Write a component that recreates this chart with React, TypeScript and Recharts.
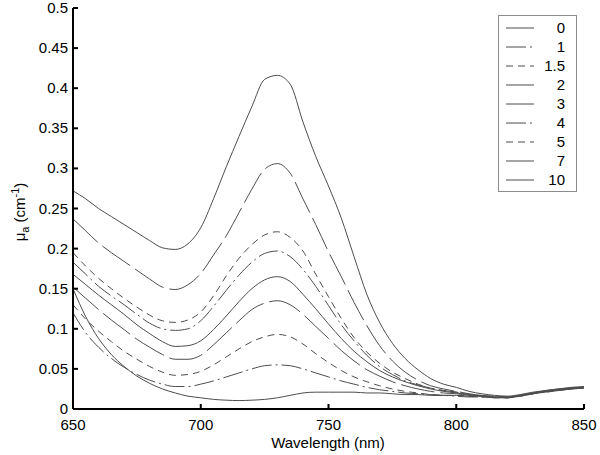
import React from 'react';
import { LineChart, Line, XAxis, YAxis, Legend } from 'recharts';

// wavelength grid (nm)
const wavelengths = [
  650, 655, 660, 665, 670, 675, 680, 685, 690, 695, 700, 705, 710, 715, 720, 725, 730, 735, 740, 745,
  750, 755, 760, 765, 770, 775, 780, 785, 790, 795, 800, 805, 810, 815, 820, 825, 830, 835, 840, 845, 850,
];

// absorption coefficient (cm^-1), one array per concentration
const mu0 = [
  0.150, 0.115, 0.088, 0.068, 0.053, 0.041, 0.032, 0.025, 0.020, 0.016, 0.014, 0.012, 0.011, 0.0105, 0.011, 0.012, 0.014, 0.017, 0.020, 0.021,
  0.021, 0.021, 0.021, 0.020, 0.020, 0.019, 0.018, 0.018, 0.017, 0.017, 0.017, 0.016, 0.016, 0.015, 0.015, 0.017, 0.020, 0.022, 0.024, 0.026, 0.027,
];
const mu1 = [
  0.120, 0.095, 0.077, 0.063, 0.052, 0.043, 0.036, 0.031, 0.028, 0.028, 0.031, 0.035, 0.040, 0.045, 0.050, 0.054, 0.055, 0.054, 0.050, 0.045,
  0.040, 0.035, 0.031, 0.027, 0.024, 0.022, 0.020, 0.019, 0.018, 0.017, 0.016, 0.015, 0.015, 0.014, 0.014, 0.016, 0.019, 0.021, 0.023, 0.025, 0.027,
];
const mu15 = [
  0.130, 0.112, 0.097, 0.084, 0.072, 0.062, 0.053, 0.046, 0.042, 0.043, 0.047, 0.055, 0.065, 0.075, 0.084, 0.090, 0.093, 0.090, 0.081, 0.069,
  0.058, 0.048, 0.040, 0.034, 0.029, 0.025, 0.022, 0.020, 0.018, 0.017, 0.017, 0.016, 0.015, 0.014, 0.014, 0.016, 0.019, 0.022, 0.024, 0.025, 0.026,
];
const mu2 = [
  0.152, 0.138, 0.124, 0.111, 0.099, 0.087, 0.077, 0.068, 0.062, 0.062, 0.067, 0.080, 0.095, 0.110, 0.124, 0.132, 0.135, 0.130, 0.118, 0.103,
  0.088, 0.073, 0.060, 0.049, 0.041, 0.034, 0.029, 0.025, 0.022, 0.020, 0.019, 0.017, 0.016, 0.015, 0.014, 0.016, 0.019, 0.021, 0.023, 0.025, 0.026,
];
const mu3 = [
  0.168, 0.155, 0.142, 0.130, 0.118, 0.105, 0.094, 0.084, 0.078, 0.079, 0.085, 0.099, 0.116, 0.134, 0.150, 0.161, 0.165, 0.159, 0.143, 0.125,
  0.106, 0.088, 0.072, 0.059, 0.048, 0.040, 0.034, 0.029, 0.025, 0.022, 0.020, 0.018, 0.016, 0.015, 0.015, 0.017, 0.020, 0.022, 0.024, 0.026, 0.027,
];
const mu4 = [
  0.183, 0.168, 0.153, 0.141, 0.130, 0.118, 0.107, 0.100, 0.098, 0.100, 0.110, 0.128, 0.148, 0.167, 0.183, 0.194, 0.197, 0.190, 0.174, 0.153,
  0.129, 0.105, 0.085, 0.067, 0.053, 0.043, 0.035, 0.030, 0.026, 0.023, 0.021, 0.018, 0.016, 0.015, 0.014, 0.016, 0.019, 0.022, 0.024, 0.025, 0.026,
];
const mu5 = [
  0.195, 0.178, 0.163, 0.150, 0.138, 0.127, 0.117, 0.110, 0.108, 0.111, 0.121, 0.141, 0.166, 0.188, 0.205, 0.217, 0.221, 0.214, 0.197, 0.168,
  0.140, 0.113, 0.089, 0.071, 0.057, 0.046, 0.038, 0.031, 0.026, 0.023, 0.021, 0.018, 0.016, 0.015, 0.015, 0.017, 0.020, 0.022, 0.024, 0.026, 0.027,
];
const mu7 = [
  0.237, 0.222, 0.207, 0.195, 0.184, 0.173, 0.162, 0.152, 0.149, 0.155, 0.169, 0.192, 0.216, 0.245, 0.274, 0.299, 0.306, 0.294, 0.262, 0.230,
  0.196, 0.165, 0.133, 0.104, 0.079, 0.060, 0.046, 0.036, 0.029, 0.025, 0.022, 0.019, 0.017, 0.016, 0.015, 0.017, 0.020, 0.023, 0.025, 0.026, 0.027,
];
const mu10 = [
  0.272, 0.262, 0.250, 0.240, 0.230, 0.220, 0.210, 0.201, 0.199, 0.206, 0.226, 0.262, 0.302, 0.340, 0.377, 0.411, 0.416, 0.405, 0.358, 0.315,
  0.278, 0.238, 0.190, 0.143, 0.108, 0.082, 0.063, 0.049, 0.038, 0.031, 0.027, 0.022, 0.019, 0.017, 0.016, 0.018, 0.021, 0.023, 0.025, 0.027, 0.028,
];

const xTicks = [650, 700, 750, 800, 850];
const yTicks = [0, 0.05, 0.1, 0.15, 0.2, 0.25, 0.3, 0.35, 0.4, 0.45, 0.5];

const SOLID = undefined;
const DASH_DOT = '20 4 2 4';
const LONG_DASH = '34 6';
const DASHED = '7 5';

const series = [
  { key: 'c0', name: '0', values: mu0, dash: SOLID },
  { key: 'c1', name: '1', values: mu1, dash: DASH_DOT },
  { key: 'c15', name: '1.5', values: mu15, dash: DASHED },
  { key: 'c2', name: '2', values: mu2, dash: LONG_DASH },
  { key: 'c3', name: '3', values: mu3, dash: SOLID },
  { key: 'c4', name: '4', values: mu4, dash: DASH_DOT },
  { key: 'c5', name: '5', values: mu5, dash: DASHED },
  { key: 'c7', name: '7', values: mu7, dash: LONG_DASH },
  { key: 'c10', name: '10', values: mu10, dash: SOLID },
];

const data = wavelengths.map((w, i) => {
  const row: Record<string, number> = { w };
  series.forEach((s) => {
    row[s.key] = s.values[i];
  });
  return row;
});

const FONT = '"Liberation Sans", Arial, Helvetica, sans-serif';
const FS = 15;
const LINE = '#4d4d4d';
const TICK = 5;
const axisLine = { stroke: '#000', strokeWidth: 2 };

// ticks point inward, like the matlab box
const BottomTick = (props: any) => {
  const { x, y, payload } = props;
  return (
    <g>
      <line x1={x} y1={y} x2={x} y2={y - TICK} stroke="#000" strokeWidth={2} />
      <text x={x} y={y + 21} textAnchor="middle" fontSize={FS} fontFamily={FONT} fill="#000">
        {payload.value}
      </text>
    </g>
  );
};

const TopTick = (props: any) => {
  const { x, y } = props;
  return <line x1={x} y1={y} x2={x} y2={y + TICK} stroke="#000" strokeWidth={2} />;
};

const LeftTick = (props: any) => {
  const { x, y, payload } = props;
  return (
    <g>
      <line x1={x} y1={y} x2={x + TICK} y2={y} stroke="#000" strokeWidth={2} />
      <text x={x - 5} y={y + 5} textAnchor="end" fontSize={FS} fontFamily={FONT} fill="#000">
        {String(payload.value)}
      </text>
    </g>
  );
};

const RightTick = (props: any) => {
  const { x, y } = props;
  return <line x1={x} y1={y} x2={x - TICK} y2={y} stroke="#000" strokeWidth={2} />;
};

const XLabel = () => (
  <text x={328} y={448} textAnchor="middle" fontSize={FS} fontFamily={FONT} fill="#000">
    Wavelength (nm)
  </text>
);

const YLabel = () => (
  <text
    x={25}
    y={212}
    transform="rotate(-90, 25, 212)"
    textAnchor="middle"
    fontSize={FS}
    fontFamily={FONT}
    fill="#000"
  >
    μ
    <tspan dy={4} fontSize={11}>a</tspan>
    <tspan dy={-4}> (cm</tspan>
    <tspan dy={-6} fontSize={11}>-1</tspan>
    <tspan dy={6}>)</tspan>
  </text>
);

const LegendBox = () => (
  <svg width={80} height={178} style={{ display: 'block' }}>
    <rect x={0.5} y={0.5} width={78} height={176} fill="#fff" stroke="#8c8c8c" />
    {series.map((s, i) => (
      <g key={s.key}>
        <line x1={8} x2={36} y1={13 + i * 19} y2={13 + i * 19} stroke={LINE} strokeDasharray={s.dash} />
        <text x={67} y={18 + i * 19} textAnchor="end" fontSize={FS} fontFamily={FONT} fill="#000">
          {s.name}
        </text>
      </g>
    ))}
  </svg>
);

export default function App() {
  return (
    <div style={{ position: 'absolute', left: 0, top: 0, background: '#fff' }}>
      <LineChart width={600} height={455} data={data} margin={{ top: 8, right: 16, bottom: 0, left: 0 }}>
        <XAxis
          dataKey="w"
          type="number"
          domain={[650, 850]}
          ticks={xTicks}
          interval={0}
          height={46}
          tickSize={0}
          tickMargin={0}
          axisLine={axisLine}
          tickLine={false}
          tick={BottomTick}
          label={{ content: XLabel }}
        />
        <XAxis
          xAxisId="top"
          orientation="top"
          dataKey="w"
          type="number"
          domain={[650, 850]}
          ticks={xTicks}
          interval={0}
          height={0}
          tickSize={0}
          tickMargin={0}
          axisLine={axisLine}
          tickLine={false}
          tick={TopTick}
        />
        <YAxis
          type="number"
          domain={[0, 0.5]}
          ticks={yTicks}
          interval={0}
          width={73}
          tickSize={0}
          tickMargin={0}
          axisLine={axisLine}
          tickLine={false}
          tick={LeftTick}
          label={{ content: YLabel }}
        />
        <YAxis
          yAxisId="right"
          orientation="right"
          type="number"
          domain={[0, 0.5]}
          ticks={yTicks}
          interval={0}
          width={0}
          tickSize={0}
          tickMargin={0}
          axisLine={axisLine}
          tickLine={false}
          tick={RightTick}
        />
        <Legend
          layout="vertical"
          align="center"
          verticalAlign="middle"
          content={LegendBox}
          wrapperStyle={{ left: 498, top: 15, width: 80, height: 178 }}
        />
        {series.map((s) => (
          <Line
            key={s.key}
            dataKey={s.key}
            name={s.name}
            type="monotone"
            stroke={LINE}
            strokeWidth={1}
            strokeDasharray={s.dash}
            dot={false}
            activeDot={false}
            isAnimationActive={false}
          />
        ))}
      </LineChart>
    </div>
  );
}
